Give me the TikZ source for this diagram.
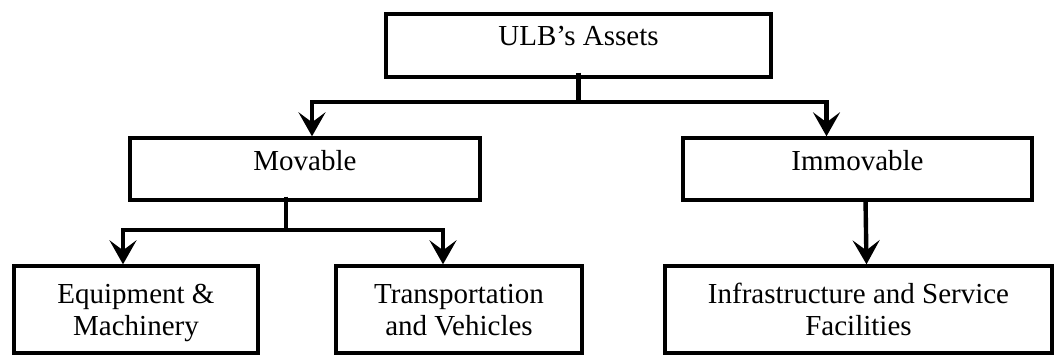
\documentclass[tikz,border=0pt]{standalone}
\usepackage{fontspec}
\setmainfont{Liberation Serif}
\usetikzlibrary{arrows.meta}
\begin{document}
\begin{tikzpicture}[x=0.5pt,y=-0.5pt,
  box/.style={draw,line width=1.7pt,inner sep=0pt,align=center,
    font=\fontsize{14.5}{16}\selectfont,text height=10pt,text depth=9pt},
  twoline/.style={box,minimum height=43.5pt,text height=29.5pt,text depth=4pt},
  link/.style={line width=2.2pt},
  arrow/.style={link,-{Stealth[length=12pt,width=13.5pt,inset=5pt]}}]

\useasboundingbox (0,0) rectangle (1054,354);

% boxes
\node[box,minimum width=192.5pt,minimum height=31.5pt,text depth=10pt] (assets) at (578.5,45.5) {ULB’s Assets};
\node[box,minimum width=175pt,minimum height=31pt] (movable) at (305,169) {Movable};
\node[box,minimum width=174.5pt,minimum height=31pt] (immovable) at (857.5,169) {Immovable};

\node[twoline,minimum width=122pt] (equipment) at (136,309.5) {Equipment \&\\Machinery};
\node[twoline,minimum width=123pt] (transport) at (459,309.5) {Transportation\\and Vehicles};
\node[twoline,minimum width=193.5pt] (infra) at (858.5,309.5) {Infrastructure and Service\\Facilities};

% branch points and arrow ends
\coordinate (stem1) at ([yshift=3pt]assets.south);
\coordinate (split1) at ([yshift=-11.5pt]assets.south);
\coordinate (tomov) at ([xshift=3.5pt]movable.north);
\coordinate (toimm) at ([xshift=-15.5pt]immovable.north);

\coordinate (stem2) at ([xshift=-9.5pt,yshift=2.5pt]movable.south);
\coordinate (split2) at ([xshift=-9.5pt,yshift=-14pt]movable.south);
\coordinate (toequip) at ([xshift=-6.5pt]equipment.north);
\coordinate (totrans) at ([xshift=-8pt]transport.north);

% connectors
\draw[link] (stem1) -- (split1);
\draw[arrow] (split1) -| (tomov);
\draw[arrow] (split1) -| (toimm);

\draw[link] (stem2) -- (split2);
\draw[arrow] (split2) -| (toequip);
\draw[arrow] (split2) -| (totrans);

\draw[arrow] ([xshift=4pt,yshift=1.5pt]immovable.south) -- ([xshift=4pt]infra.north);

\end{tikzpicture}
\end{document}
